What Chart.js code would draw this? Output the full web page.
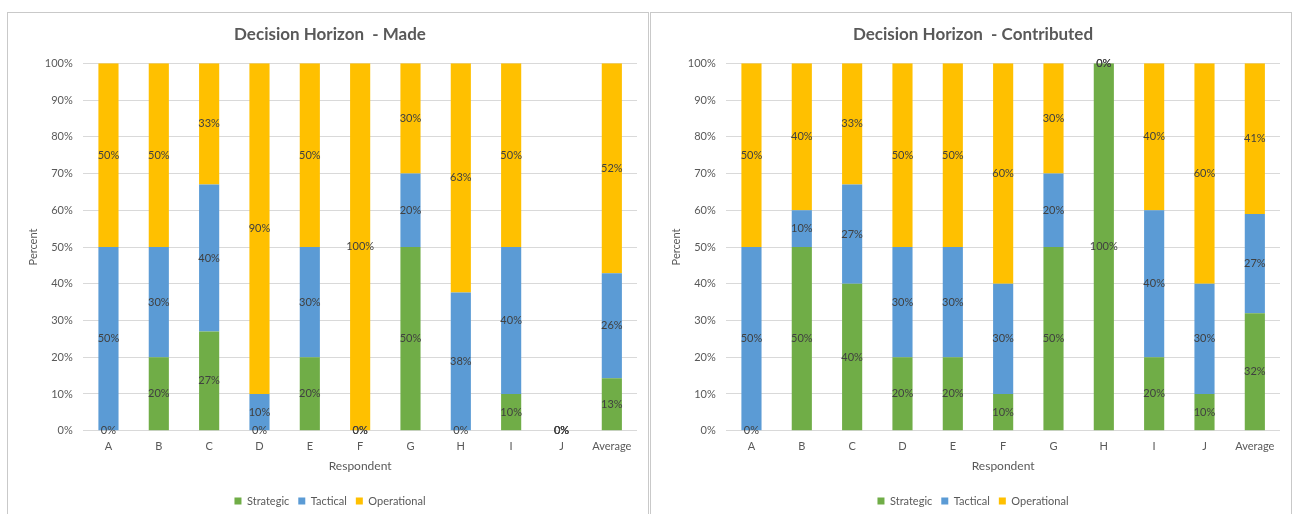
<!DOCTYPE html>
<html>
<head>
<meta charset="utf-8">
<script src="https://cdn.jsdelivr.net/npm/chart.js@4.4.1/dist/chart.umd.min.js"></script>
<style>
  html, body { margin: 0; padding: 0; background: #ffffff; overflow: hidden; }
  body { width: 1298px; height: 514px; position: relative; }
  .panel { position: absolute; top: 12px; width: 640px; height: 520px; border: 1px solid #c9c9c9; background: #fff; }
  #panelMade { left: 7px; }
  #panelContrib { left: 650px; }
  canvas { display: block; }
</style>
</head>
<body>
<div class="panel" id="panelMade"><canvas id="chartMade" width="640" height="504"></canvas></div>
<div class="panel" id="panelContrib"><canvas id="chartContrib" width="640" height="504"></canvas></div>
<script>
// Respondents on the x axis
const respondents = ['A', 'B', 'C', 'D', 'E', 'F', 'G', 'H', 'I', 'J', 'Average'];

// Decisions made, share per horizon (%)
const madeStrategic   = [0, 20, 27, 0, 20, 0, 50, 0, 10, 0, 13];
const madeTactical    = [50, 30, 40, 10, 30, 0, 20, 38, 40, 0, 26];
const madeOperational = [50, 50, 33, 90, 50, 100, 30, 63, 50, 0, 52];

// Decisions contributed to, share per horizon (%)
const contribStrategic   = [0, 50, 40, 20, 20, 10, 50, 100, 20, 10, 32];
const contribTactical    = [50, 10, 27, 30, 30, 30, 20, 0, 40, 30, 27];
const contribOperational = [50, 40, 33, 50, 50, 60, 30, 0, 40, 60, 41];

// Value axis ticks
const percentTicks = [0, 10, 20, 30, 40, 50, 60, 70, 80, 90, 100];

const seriesNames = ['Strategic', 'Tactical', 'Operational'];
const seriesColors = ['#70AD47', '#5B9BD5', '#FFC000'];

const FONT = 'Lato';
const TEXT = '#595959';
const GRID = '#d9d9d9';

// 100% stacked: each column is scaled to its own total
function toShares(series) {
  return respondents.map((_, j) => {
    const total = series.reduce((s, arr) => s + arr[j], 0);
    return series.map(arr => total ? arr[j] / total * 100 : 0);
  });
}

// Writes the raw value in the middle of every segment (zero segments included)
const segmentLabels = {
  id: 'segmentLabels',
  afterDatasetsDraw(chart) {
    const ctx = chart.ctx;
    ctx.save();
    ctx.font = '11px ' + FONT;
    ctx.fillStyle = '#404040';
    ctx.textAlign = 'center';
    ctx.textBaseline = 'middle';
    chart.data.datasets.forEach((ds, i) => {
      const meta = chart.getDatasetMeta(i);
      meta.data.forEach((el, j) => {
        const y = (el.y + el.base) / 2;
        ctx.fillText(ds.rawValues[j] + '%', el.x, y);
      });
    });
    ctx.restore();
  }
};

function makeChart(canvasId, titleText, strategic, tactical, operational) {
  const raw = [strategic, tactical, operational];
  const shares = toShares(raw);
  const datasets = raw.map((values, i) => ({
    label: seriesNames[i],
    data: shares.map(col => col[i]),
    rawValues: values,
    backgroundColor: seriesColors[i],
    borderWidth: 0,
    barPercentage: 0.4,
    categoryPercentage: 1.0
  }));

  return new Chart(document.getElementById(canvasId), {
    type: 'bar',
    data: { labels: respondents, datasets },
    plugins: [segmentLabels],
    options: {
      responsive: false,
      animation: false,
      devicePixelRatio: 1,
      layout: { padding: { left: 15, right: 11, top: 0, bottom: 0.5 } },
      plugins: {
        tooltip: { enabled: false },
        title: {
          display: true,
          text: titleText,
          color: TEXT,
          font: { family: FONT, size: 17, weight: 'bold' },
          padding: { top: 11.8, bottom: 18.1 }
        },
        legend: {
          display: true,
          position: 'bottom',
          labels: {
            color: TEXT,
            font: { family: FONT, size: 11 },
            boxWidth: 7,
            boxHeight: 7,
            padding: 9
          }
        }
      },
      scales: {
        x: {
          stacked: true,
          grid: { display: false, drawTicks: false },
          border: { display: false },
          ticks: { color: TEXT, font: { family: FONT, size: 11 }, padding: 9, maxRotation: 0, autoSkip: false },
          title: {
            display: true,
            text: 'Respondent',
            color: TEXT,
            font: { family: FONT, size: 12 },
            padding: { top: 6, bottom: 13.3 }
          },
          afterFit(scale) { scale.height = 55.8; }
        },
        y: {
          stacked: true,
          min: 0,
          max: 100,
          afterBuildTicks(scale) { scale.ticks = percentTicks.map(v => ({ value: v })); },
          grid: { color: GRID, lineWidth: 1, drawTicks: false },
          border: { display: false },
          ticks: {
            color: TEXT,
            font: { family: FONT, size: 11 },
            padding: 10.5,
            callback: v => v + '%'
          },
          title: {
            display: true,
            text: 'Percent',
            color: TEXT,
            font: { family: FONT, size: 11 },
            padding: { top: 3.4, bottom: 0 }
          },
          afterFit(scale) { scale.width = 60.3; }
        }
      }
    }
  });
}

makeChart('chartMade', 'Decision Horizon  - Made', madeStrategic, madeTactical, madeOperational);
makeChart('chartContrib', 'Decision Horizon  - Contributed', contribStrategic, contribTactical, contribOperational);
</script>
</body>
</html>
